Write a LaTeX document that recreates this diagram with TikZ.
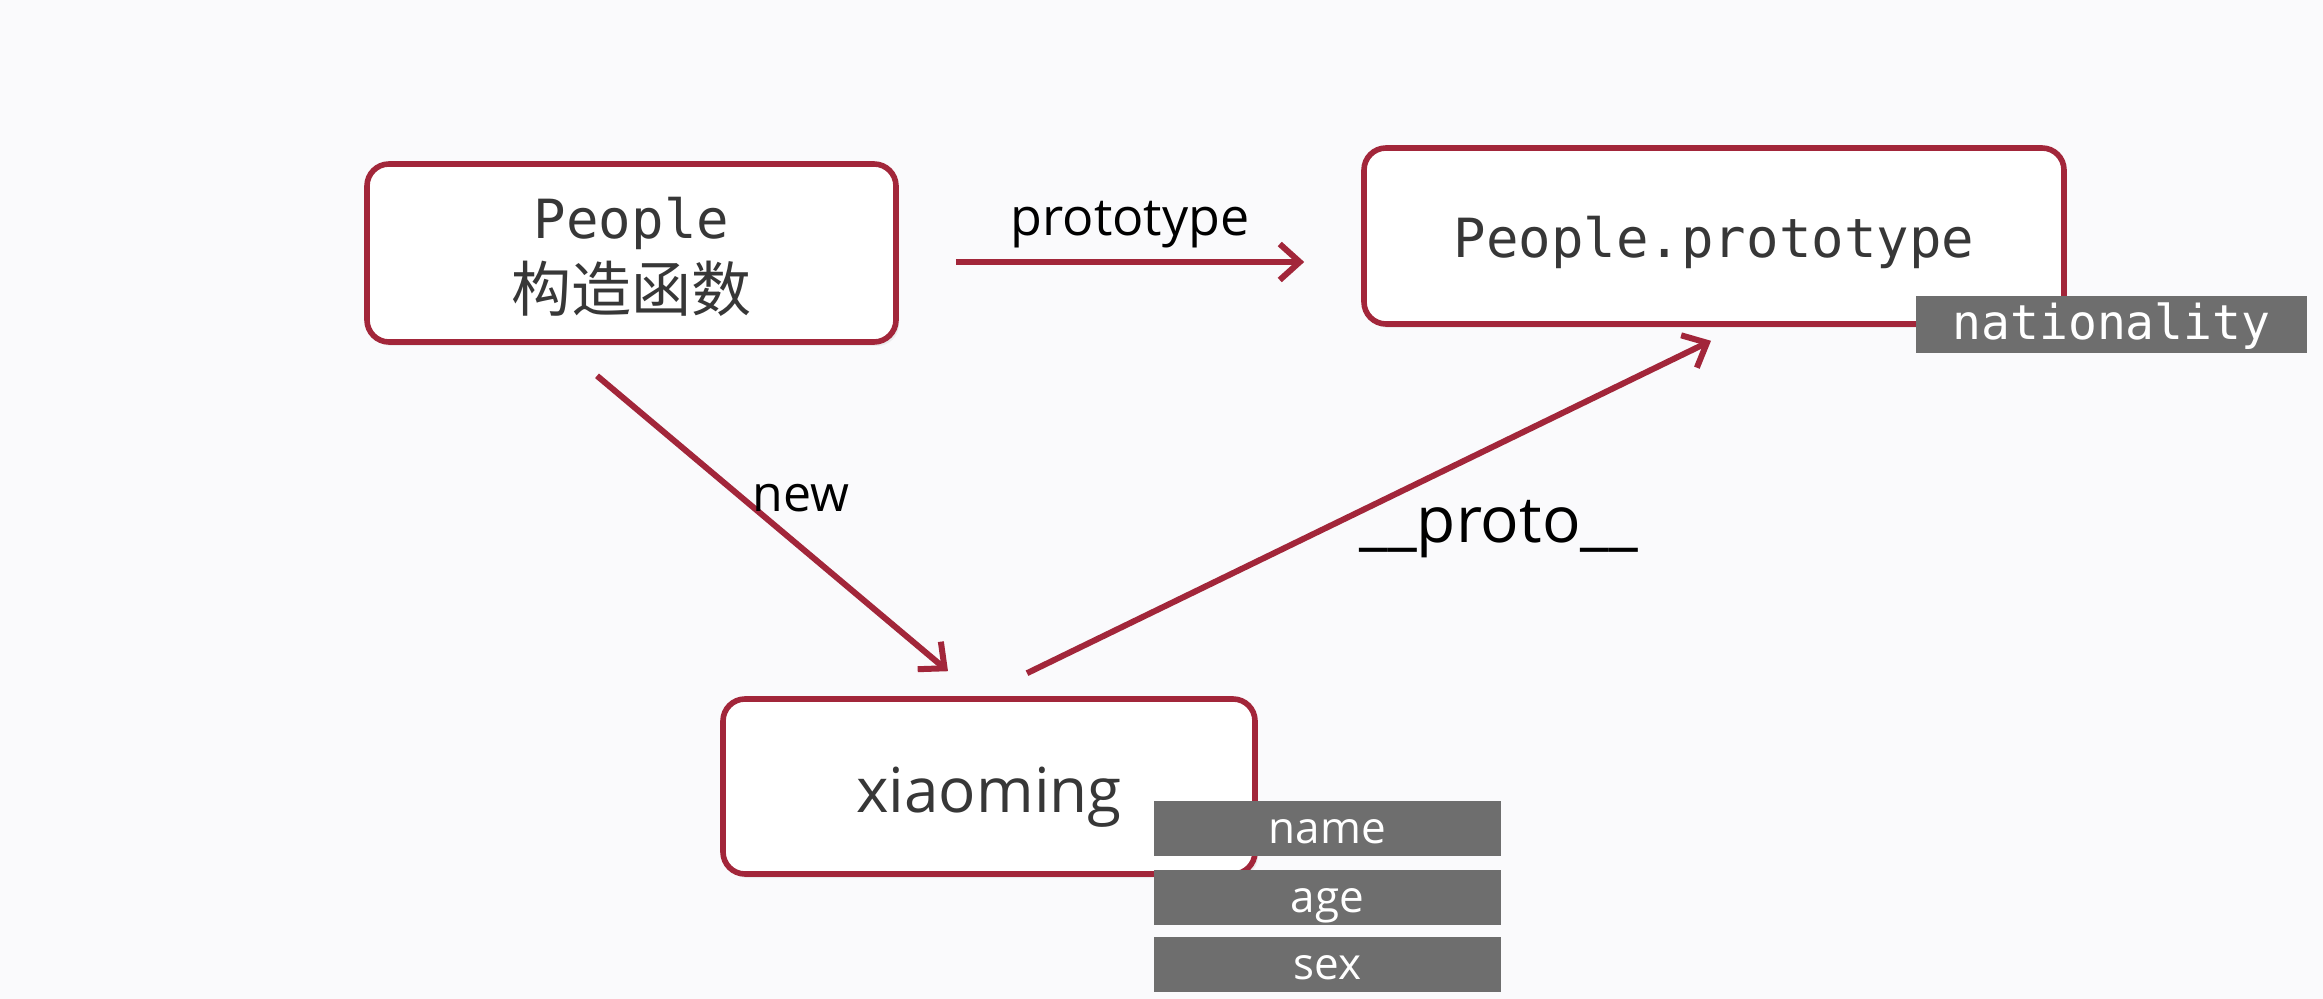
\documentclass[tikz,border=0pt]{standalone}
\usepackage{fontspec}
\setmainfont{Open Sans}
\setmonofont{DejaVu Sans Mono}
\newfontfamily\cjk{Noto Sans CJK SC}
\usetikzlibrary{arrows.meta, positioning, shadows}
\definecolor{boxred}{RGB}{162,38,58}
\definecolor{tagbg}{RGB}{110,110,110}
\definecolor{bgc}{RGB}{250,250,252}
\definecolor{txt}{RGB}{55,55,55}

\begin{document}
\begin{tikzpicture}[x=0.5pt,y=-0.5pt,>={Straight Barb[length=10pt,width=18pt]},
        base node/.style={draw=boxred,line width=2.8pt,rounded corners=11pt,fill=white,text=txt,
            drop shadow={opacity=0.12,shadow xshift=1.5pt,shadow yshift=-2pt}},
        tag node/.style={fill=tagbg,text=white,inner sep=0pt,outer sep=0pt,
            minimum width=173.5pt,minimum height=27.5pt,text height=16pt,text depth=1pt},
        link/.style={->,draw=boxred,line width=3pt},
        lbl/.style={inner sep=0pt,text=black}]
    \fill[bgc] (0,0) rectangle (2323,999);
    \useasboundingbox (0,0) rectangle (2323,999);

    \node[base node,minimum width=264.5pt,minimum height=89pt,align=center,text height=61pt,
        font=\fontsize{27}{36.5}\selectfont] (1) at (631.5,253)
        {\ttfamily People\\{\cjk\fontsize{30}{36.5}\selectfont 构造函数}};
    \node[base node,minimum width=350pt,minimum height=88pt,text height=28pt,text depth=6pt,
        font=\ttfamily\fontsize{27}{32}\selectfont] (2) at (1714,236) {People.prototype};
    \node[base node,minimum width=266pt,minimum height=87.5pt,text height=33pt,text depth=7pt,
        font=\fontsize{31}{36}\selectfont] (3) at (989,786.5) {xiaoming};

    \node[tag node,minimum width=195.5pt,minimum height=28.5pt,
        font=\ttfamily\fontsize{24}{28}\selectfont] (4) at (2111.5,324.5) {nationality};
    \node[tag node,font=\fontsize{22}{26}\selectfont] (5) at (1327.5,828.5) {name};
    \node[tag node,font=\fontsize{22}{26}\selectfont,below=7pt of 5] (6) {age};
    \node[tag node,font=\fontsize{22}{26}\selectfont,below=6pt of 6] (7) {sex};

    \path[]
    ([yshift=-4.5pt]1.east) edge[link,shorten <=28.5pt,shorten >=28.5pt]
        node[lbl,above=5.5pt,font=\fontsize{26}{30}\selectfont] {prototype} ([yshift=-13pt]2.west)
    ([xshift=-17.25pt,yshift=-15.5pt]1.south) edge[link]
        node[lbl,pos=0.415,anchor=west,xshift=3.5pt,font=\fontsize{25}{30}\selectfont] {new}
        ([xshift=-20.5pt,yshift=12.5pt]3.north)
    ([xshift=19pt,yshift=11.5pt]3.north) edge[link]
        node[lbl,pos=0.435,anchor=west,xshift=16pt,font=\fontsize{32}{34}\selectfont] {\_\_proto\_\_}
        ([xshift=-1.5pt,yshift=-7pt]2.south);
\end{tikzpicture}
\end{document}
